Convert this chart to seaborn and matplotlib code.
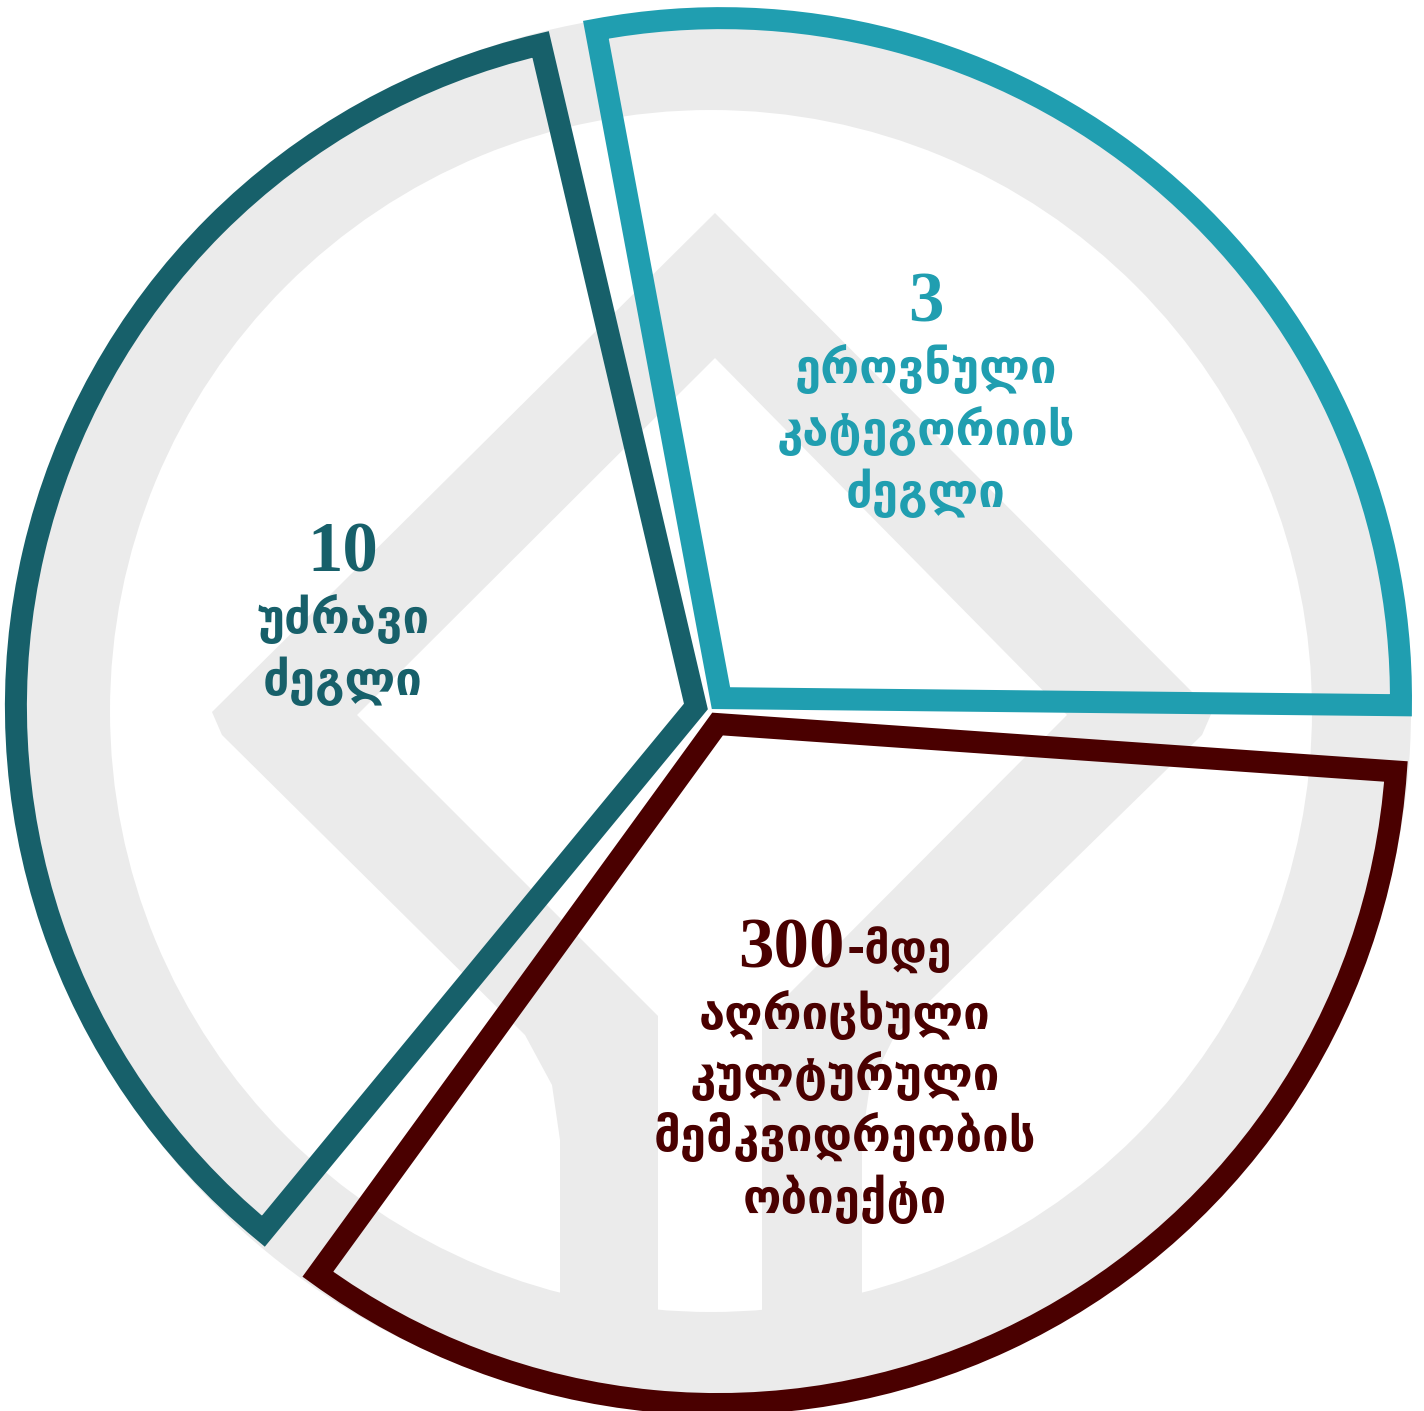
import matplotlib
matplotlib.use("Agg")
import matplotlib.pyplot as plt
from matplotlib.patches import Wedge, Polygon
import seaborn as sns

W, H = 1424, 1411

# slice spans in degrees (the chart is not to scale with the counts)
slice_spans = [101.2, 127.3, 122.0]
gap_spans = [2.6, 3.5, 3.4]
slice_colors = ["#209eb0", "#17606a", "#4a0000"]
counts = ["3", "10", "300"]
count_suffix = ["", "", "-მდე"]
descriptions = [
    ["ეროვნული", "კატეგორიის", "ძეგლი"],
    ["უძრავი", "ძეგლი"],
    ["აღრიცხული", "კულტურული", "მემკვიდრეობის", "ობიექტი"],
]

# label anchors (pixel coords, y measured from the top)
label_x = [926, 343, 845]
label_y = [322, 572, 967]
line_step = 61.5

sns.set_theme(style="white")
plt.rcParams["font.family"] = ["DejaVu Sans"]


def iy(y):
    return H - y


fig = plt.figure(figsize=(W / 100, H / 100), dpi=100)
ax = fig.add_axes([0, 0, 1, 1])

# light grey watermark logo behind the pie
wm = "#ebebeb"
ax.add_patch(Wedge((711, iy(711)), 700, 0, 360, width=99, color=wm, zorder=0, lw=0))
logo = [(560, 1330), (560, 1140), (552, 1085), (525, 1035), (222, 735), (212, 712),
        (715, 213), (1212, 712), (1202, 735), (895, 1035), (870, 1085), (862, 1140),
        (862, 1330), (762, 1330), (762, 1021), (1067, 715), (715, 358),
        (357, 715), (658, 1016), (658, 1330)]
ax.add_patch(Polygon([(x, iy(y)) for x, y in logo], closed=True, color=wm, zorder=0, lw=0))

# pie: real slices interleaved with small invisible gap slices
values, colors, explode = [], [], []
for span, gap, col in zip(slice_spans, gap_spans, slice_colors):
    values += [span, gap]
    colors += [col, "none"]
    explode += [15.5, 0]

wedges, _ = ax.pie(values, radius=680, center=(711, iy(710)), startangle=-0.6,
                   counterclock=True, explode=explode,
                   wedgeprops=dict(fill=False, linewidth=22 * 0.72))
for i, w in enumerate(wedges):
    if i % 2:
        w.set_visible(False)
    else:
        w.set_edgecolor(colors[i])
        w.set_joinstyle("miter")
        w.set_zorder(2)

for k in range(3):
    col = slice_colors[k]
    x0, y0 = label_x[k], label_y[k]
    if count_suffix[k]:
        ax.text(x0, iy(y0), counts[k], ha="right", va="baseline", color=col,
                fontsize=51, fontweight="bold", family="Liberation Serif", zorder=3)
        ax.text(x0 + 2, iy(y0 - 3), count_suffix[k], ha="left", va="baseline", color=col,
                fontsize=32, fontweight="bold", zorder=3)
    else:
        ax.text(x0, iy(y0), counts[k], ha="center", va="baseline", color=col,
                fontsize=51, fontweight="bold", family="Liberation Serif", zorder=3)
    for j, line in enumerate(descriptions[k]):
        ax.text(x0, iy(y0 + line_step * (j + 1)), line, ha="center", va="baseline",
                color=col, fontsize=34, fontweight="bold", zorder=3)

ax.set_xlim(0, W)
ax.set_ylim(0, H)
ax.set_aspect("auto")
ax.axis("off")
fig.savefig("out.png", dpi=100, facecolor="white")
